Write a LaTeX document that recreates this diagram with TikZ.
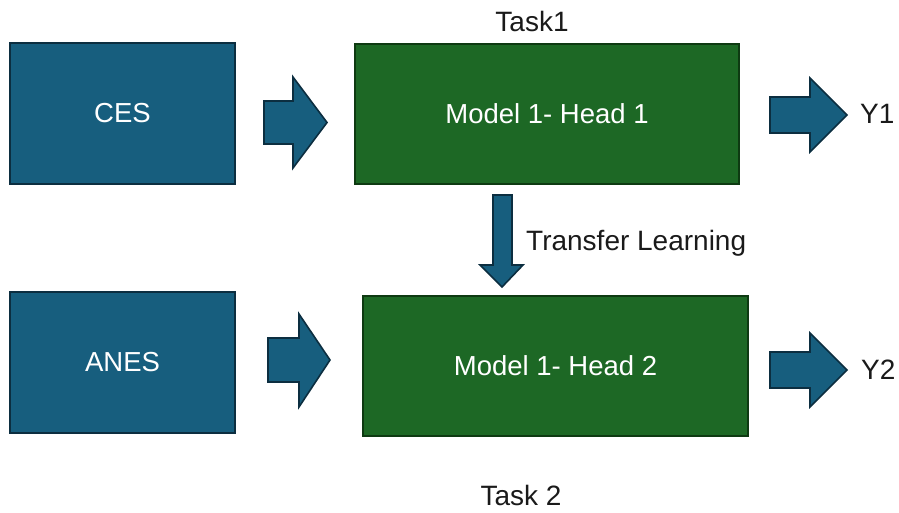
\documentclass[tikz,border=0pt]{standalone}
\usepackage{fontspec}
\setmainfont{Liberation Sans}
\definecolor{bluefill}{HTML}{175E7E}
\definecolor{blueline}{HTML}{0C2E40}
\definecolor{greenfill}{HTML}{1D6825}
\definecolor{greenline}{HTML}{0E3A12}
\definecolor{txt}{HTML}{1A1A1A}
\tikzset{
  bigfont/.style={font=\fontsize{27.5}{30}\selectfont},
  databox/.style={draw=blueline, fill=bluefill, line width=2.2pt, text=white, bigfont, inner sep=0pt},
  modelbox/.style={draw=greenline, fill=greenfill, line width=2.2pt, text=white, bigfont, inner sep=0pt},
  blockarrow/.style={draw=blueline, fill=bluefill, line width=1.6pt, line join=miter},
  lbl/.style={text=txt, font=\fontsize{28}{30}\selectfont, inner sep=0pt}
}
\begin{document}
\begin{tikzpicture}[x=1pt,y=-1pt]
\useasboundingbox (0,0) rectangle (899,512);
% boxes
\node[databox, minimum width=225pt, minimum height=141pt] (ces) at (122.5,113.5) {CES};
\node[databox, minimum width=225pt, minimum height=141pt] (anes) at (122.5,362.5) {ANES};
\node[modelbox, minimum width=384pt, minimum height=140pt] (m1) at (547,114) {Model 1- Head 1};
\node[modelbox, minimum width=385pt, minimum height=140pt] (m2) at (555.5,366) {Model 1- Head 2};
% block arrows
\draw[blockarrow] (264,101) -- (293,101) -- (293,77) -- (327,122.5) -- (293,168) -- (293,144) -- (264,144) -- cycle;
\draw[blockarrow] (268,338) -- (299,338) -- (299,314) -- (330,360) -- (299,407) -- (299,382) -- (268,382) -- cycle;
\draw[blockarrow] (770,97) -- (810,97) -- (810,78) -- (847,115) -- (810,152) -- (810,133) -- (770,133) -- cycle;
\draw[blockarrow] (770,352) -- (810,352) -- (810,333) -- (847,370) -- (810,407) -- (810,388) -- (770,388) -- cycle;
\draw[blockarrow] (493,195) -- (512,195) -- (512,265) -- (523,265) -- (502,287) -- (480,265) -- (493,265) -- cycle;
% labels
\node[lbl] (t1) at (532,21) {Task1};
\node[lbl] (t2) at (521,495) {Task 2};
\node[lbl, anchor=west] (tl) at (526,243) {Transfer Learning};
\node[lbl, anchor=west] (y1) at (860,114) {Y1};
\node[lbl, anchor=west] (y2) at (861,370) {Y2};
\end{tikzpicture}
\end{document}
